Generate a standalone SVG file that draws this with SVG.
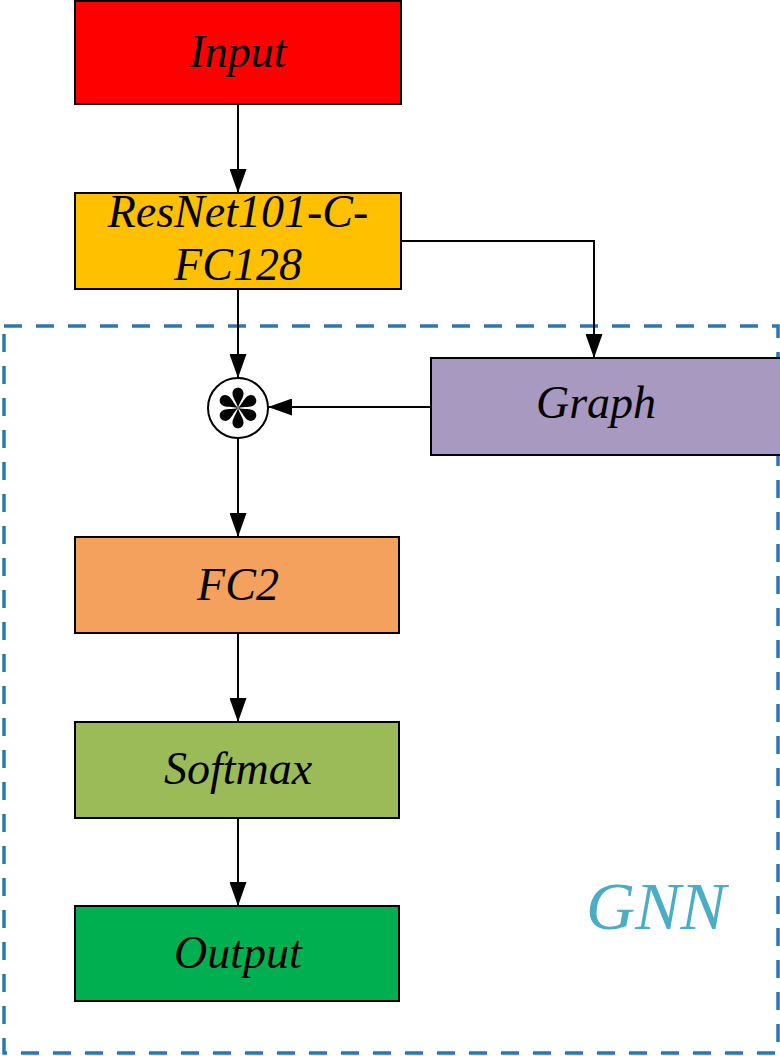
<svg xmlns="http://www.w3.org/2000/svg" width="780" height="1056" viewBox="0 0 780 1056">
<defs>
<marker id="arr" viewBox="0 0 24 17" refX="24" refY="8.5" markerWidth="24" markerHeight="17" markerUnits="userSpaceOnUse" orient="auto">
<path d="M0,0 L24,8.5 L0,17 Z" fill="#000"/>
</marker>
<style>
.box{stroke:#000;stroke-width:2}
.lbl{font-family:"Liberation Serif","Times New Roman",serif;font-style:italic;font-size:46px;fill:#000;text-anchor:middle}
.con{fill:none;stroke:#000;stroke-width:2;marker-end:url(#arr)}
</style>
</defs>
<rect width="780" height="1056" fill="#fff"/>
<g id="gnn">
<rect x="4" y="326" width="774" height="727" fill="none" stroke="#2E75B6" stroke-width="3.5" stroke-dasharray="18,14"/>
<text x="656" y="929" font-family="Liberation Serif,serif" font-style="italic" font-size="68" fill="#4BACC6" text-anchor="middle">GNN</text>
</g>
<g id="connectors">
<line class="con" x1="238" y1="104" x2="238" y2="193"/>
<line class="con" x1="238" y1="289" x2="238" y2="378"/>
<polyline class="con" points="401,241 594,241 594,358"/>
<line class="con" x1="431" y1="407" x2="268" y2="407"/>
<line class="con" x1="238" y1="438" x2="238" y2="537"/>
<line class="con" x1="238" y1="633" x2="238" y2="722"/>
<line class="con" x1="238" y1="818" x2="238" y2="906"/>
</g>
<g id="input">
<rect class="box" x="75" y="1" width="326" height="103" fill="#FF0000"/>
<text class="lbl" x="238" y="67">Input</text>
</g>
<g id="resnet">
<rect class="box" x="75" y="193" width="326" height="96" fill="#FFC000"/>
<text class="lbl" x="238" y="227">ResNet101-C-</text>
<text class="lbl" x="238" y="280">FC128</text>
</g>
<g id="mult">
<circle cx="238" cy="408" r="30" fill="#fff" stroke="#000" stroke-width="2"/>
<g fill="#000">
<path id="petal" d="M238,408 C236.5,402 232,397 232.5,393 C233,386 243,386 243.5,393 C244,397 239.5,402 238,408 Z"/>
<use href="#petal" transform="rotate(60 238 408)"/>
<use href="#petal" transform="rotate(120 238 408)"/>
<use href="#petal" transform="rotate(180 238 408)"/>
<use href="#petal" transform="rotate(240 238 408)"/>
<use href="#petal" transform="rotate(300 238 408)"/>
</g>
</g>
<g id="graph">
<rect class="box" x="431" y="358" width="352" height="97" fill="#A899C1"/>
<text class="lbl" x="596" y="418">Graph</text>
</g>
<g id="fc2">
<rect class="box" x="75" y="537" width="324" height="96" fill="#F4A15D"/>
<text class="lbl" x="238" y="600">FC2</text>
</g>
<g id="softmax">
<rect class="box" x="75" y="722" width="324" height="96" fill="#9BBB59"/>
<text class="lbl" x="238" y="784">Softmax</text>
</g>
<g id="output">
<rect class="box" x="75" y="906" width="324" height="95" fill="#00B050"/>
<text class="lbl" x="238" y="968">Output</text>
</g>
</svg>
